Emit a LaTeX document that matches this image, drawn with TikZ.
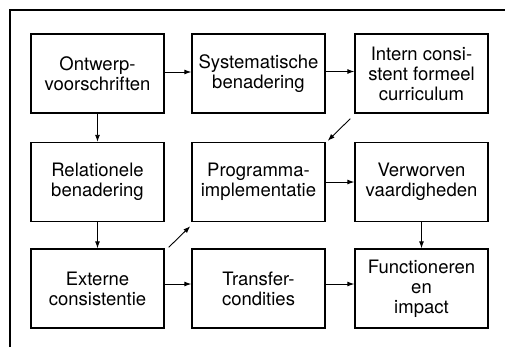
\documentclass[tikz,border=0pt]{standalone}
\usepackage{fontspec}
\setmainfont{TeX Gyre Heros}
\usetikzlibrary{arrows.meta,calc}
\begin{document}
\begin{tikzpicture}[x=1bp,y=-1bp,
  stage/.style={draw,line width=1.4bp,minimum width=133bp,minimum height=79bp,
    inner sep=0pt,align=center,font=\fontsize{18.5bp}{20bp}\selectfont},
  flow/.style={line width=0.9bp,-{Latex[length=7bp,width=5bp]}}]
\useasboundingbox (0,0) rectangle (505,347);
% frame
\draw[line width=2bp] (10,347) -- (10,10) -- (505,10);
% stages
\node[stage] (ow) at (97.5,73.5) {Ontwerp-\\voorschriften};
\node[stage] (sb) at (258.5,73.5) {Systematische\\benadering};
\node[stage] (ic) at (421.5,73.5) {Intern consi-\\stent formeel\\curriculum};
\node[stage] (rb) at (97.5,182) {Relationele\\benadering};
\node[stage] (pi) at (258.5,182) {Programma-\\implementatie};
\node[stage] (vv) at (421.5,182) {Verworven\\vaardigheden};
\node[stage] (ec) at (97.5,288.5) {Externe\\consistentie};
\node[stage] (tc) at (258.5,288.5) {Transfer-\\condities};
\node[stage] (fi) at (421.5,288.5) {Functioneren\\en\\impact};
% connectors
\draw[flow] ([yshift=1.5bp]ow.east) -- ([yshift=1.5bp]sb.west);
\draw[flow] ([yshift=2bp]sb.east) -- ([yshift=2bp]ic.west);
\draw[flow] (ow.south) -- (rb.north);
\draw[flow] (rb.south) -- (ec.north);
\draw[flow] ($(ic.south west)+(-4,5)$) -- ($(pi.north east)+(2,-1)$);
\draw[flow] ($(ec.north east)+(4,-1)$) -- ($(pi.south west)+(-1,4)$);
\draw[flow] (pi.east) -- (vv.west);
\draw[flow] (vv.south) -- (fi.north);
\draw[flow] ([yshift=4.5bp]ec.east) -- ([yshift=4.5bp]tc.west);
\draw[flow] ([yshift=4.5bp]tc.east) -- ([yshift=4.5bp]fi.west);
\end{tikzpicture}
\end{document}
